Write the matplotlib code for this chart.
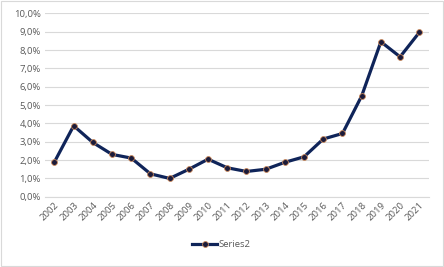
import matplotlib.pyplot as plt
from matplotlib.ticker import FuncFormatter

### Data ###
years = [str(y) for y in range(2002, 2022)]
series2 = [1.9, 3.87, 2.96, 2.31, 2.11, 1.25, 1.0, 1.5, 2.05, 1.58,
           1.38, 1.5, 1.88, 2.18, 3.15, 3.45, 5.5, 8.45, 7.63, 8.96]

### Plot ###
plt.rcParams['font.family'] = ['Open Sans', 'DejaVu Sans']

fig = plt.figure(figsize=(4.44, 2.67), dpi=100)
# Light grey chart border like the Excel chart area
fig.patches.append(plt.Rectangle((0.002, 0.004), 0.995, 0.992,
                                 transform=fig.transFigure, fill=False,
                                 edgecolor='#D9D9D9', lw=0.8))
ax = fig.add_axes([0.101, 0.263, 0.865, 0.687])

positions = list(range(len(years)))
ax.plot(positions, series2, color='#0F2459', lw=2.3, marker='o',
        markersize=4.2, markerfacecolor='#1B1B3A',
        markeredgecolor='#C8875A', markeredgewidth=0.6,
        label='Series2', zorder=3)

ax.set_xlim(-0.5, len(years) - 0.5)
ax.set_ylim(0, 10)
ax.set_yticks([i for i in range(11)])
ax.yaxis.set_major_formatter(FuncFormatter(lambda v, p: f'{v:.1f}%'.replace('.', ',')))
ax.set_xticks(positions, years, rotation=45, ha='right', rotation_mode='anchor')

ax.grid(axis='y', color='#D9D9D9', lw=0.8)
ax.set_axisbelow(True)
for side in ['top', 'right', 'left']:
    ax.spines[side].set_visible(False)
ax.spines['bottom'].set_color('#D9D9D9')
ax.tick_params(length=0, labelsize=6.8, labelcolor='#595959', pad=3)

ax.legend(loc='center', bbox_to_anchor=(0.46, -0.26), frameon=False,
          fontsize=6.8, labelcolor='#595959', handlelength=2.6,
          handletextpad=0.2)

fig.savefig('out.png', dpi=100)
